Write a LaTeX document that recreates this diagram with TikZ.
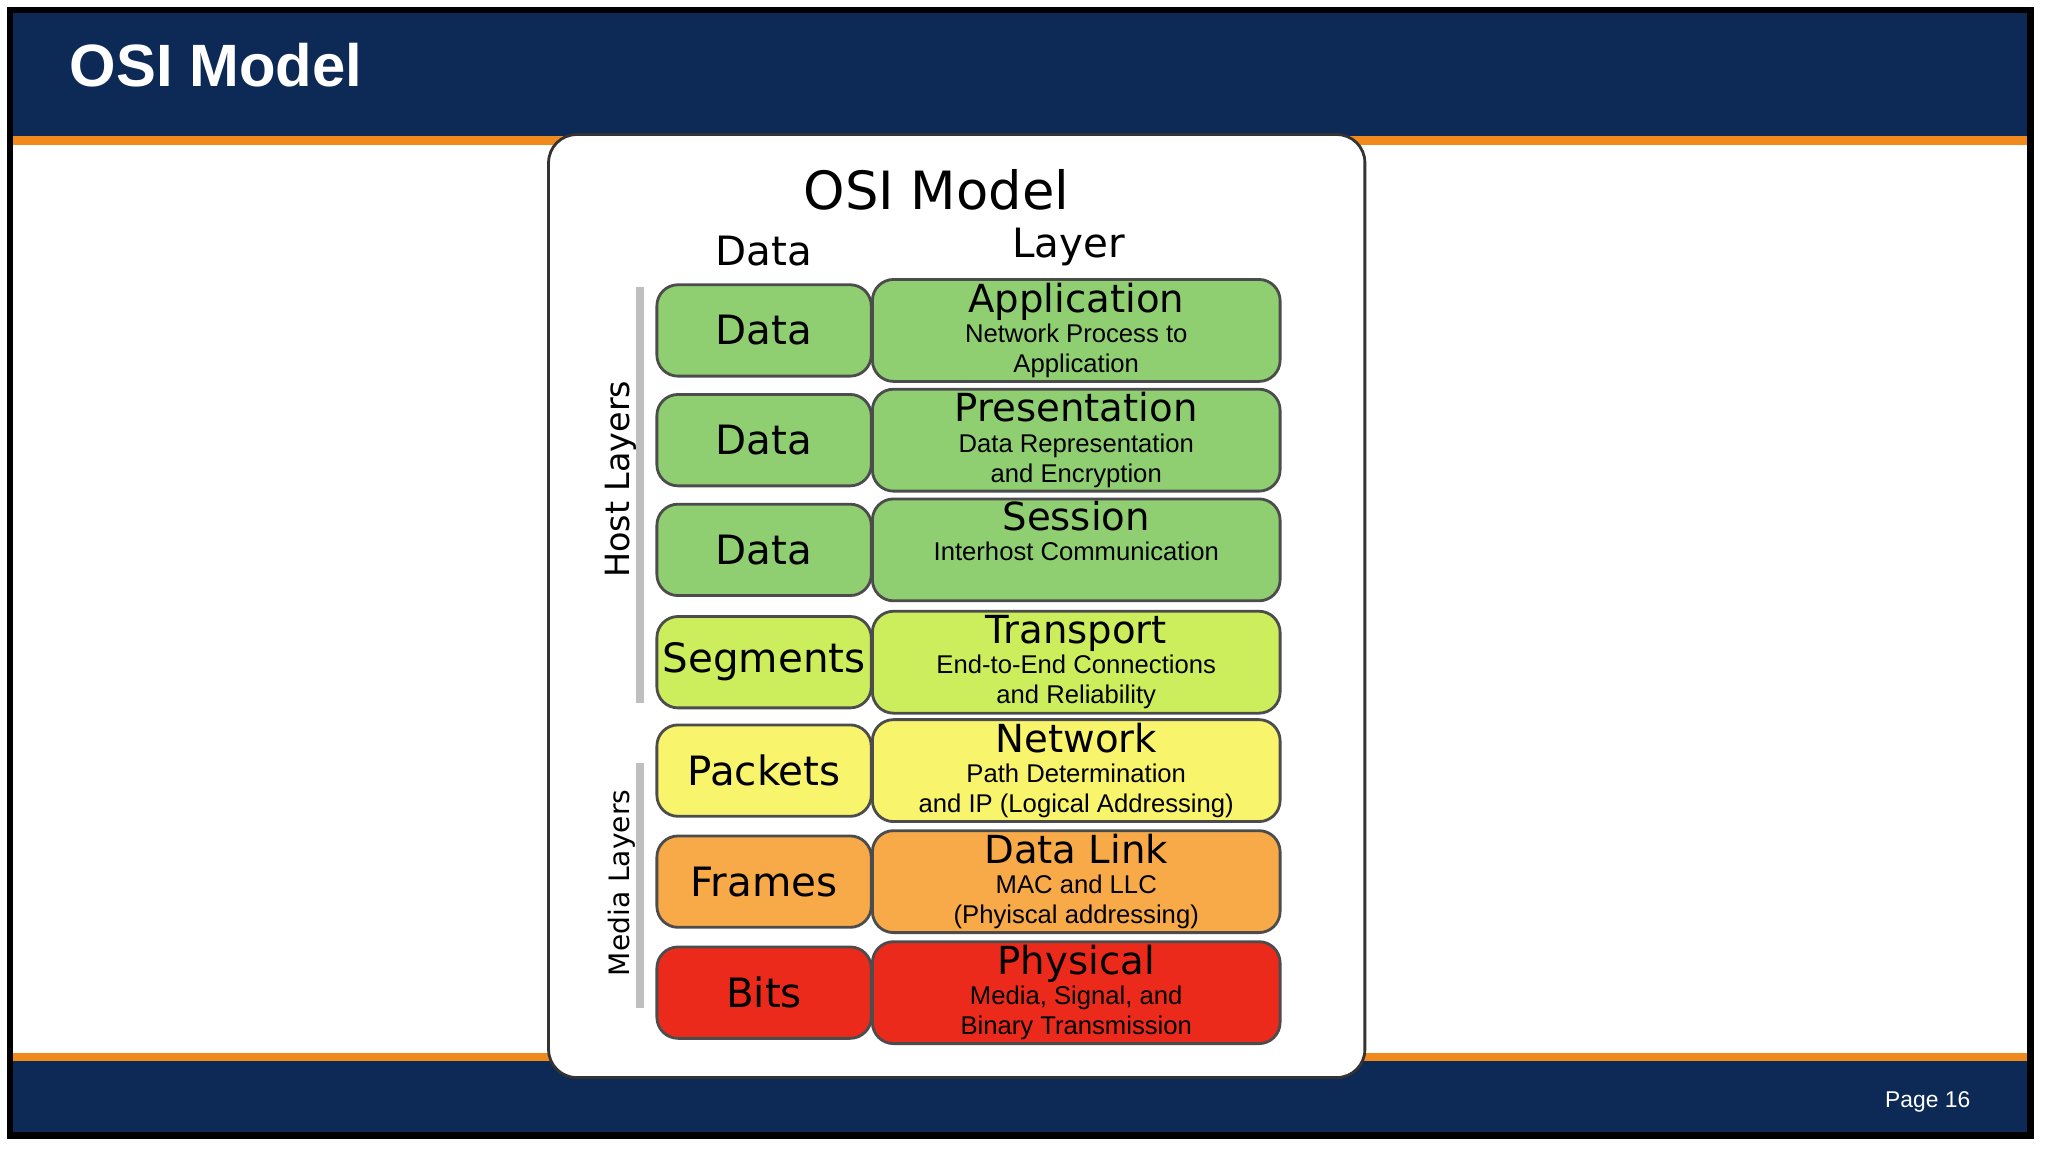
\documentclass[tikz,border=0pt]{standalone}
\usepackage{fontspec}
\setmainfont{DejaVu Sans}
\newfontfamily\titlefont{Liberation Sans}
\usetikzlibrary{positioning}
\definecolor{barblue}{HTML}{0C2A55}
\definecolor{barorange}{HTML}{F08A1C}
\definecolor{cgreen}{HTML}{8FCF72}
\definecolor{clime}{HTML}{CDEE5C}
\definecolor{cyellow}{HTML}{F8F46C}
\definecolor{corange}{HTML}{F8AA48}
\definecolor{cred}{HTML}{EC2A1C}
\newcommand{\subtxt}{\titlefont\fontsize{7.3}{7.3}\selectfont}
\tikzset{
  pdu/.style={draw=black!70, line width=0.8pt, rounded corners=6pt, minimum width=61pt, minimum height=26pt, inner sep=1pt, font=\fontsize{11.5}{12}\selectfont},
  layer/.style={draw=black!70, line width=0.8pt, rounded corners=6pt, minimum width=116pt, minimum height=29pt, align=center, font=\fontsize{11}{8.6}\selectfont, inner sep=0pt}
}
\begin{document}
\begin{tikzpicture}[x=0.01306cm, y=-0.01306cm]
  \useasboundingbox (0,0) rectangle (1568,882);
  % Slide frame
  \fill[black] (5,5) rectangle (1557,872);
  \fill[white] (10,10) rectangle (1552,867);
  \fill[barblue] (10,10) rectangle (1552,104);
  \fill[barorange] (10,104) rectangle (1552,111);
  \fill[barorange] (10,806) rectangle (1552,812);
  \fill[barblue] (10,812) rectangle (1552,867);
  \node[anchor=west, white, font=\titlefont\bfseries\fontsize{17}{17}\selectfont] (title) at (44,50) {OSI Model};
  \node[anchor=east, white, font=\titlefont\fontsize{6.5}{6.5}\selectfont] (page) at (1518,844) {Page 16};

  % Panel
  \draw[black!80, line width=0.8pt, fill=white, rounded corners=8pt] (420,103) rectangle (1045,825);
  \node[font=\fontsize{15}{15}\selectfont] (head) at (717,145) {OSI Model};
  \node[font=\fontsize{11.5}{11}\selectfont] (hdata) at (585,192) {Data};
  \node[font=\fontsize{11.5}{11}\selectfont] (hlayer) at (818,189) {Layer};

  % Rows
  \node[pdu, fill=cgreen] (d7) at (585,253) {Data};
  \node[layer, fill=cgreen] (l7) at (824,253) {Application\\ {\subtxt Network Process to}\\ {\subtxt Application}};
  \node[pdu, fill=cgreen] (d6) at (585,337) {Data};
  \node[layer, fill=cgreen] (l6) at (824,337) {Presentation\\ {\subtxt Data Representation}\\ {\subtxt and Encryption}};
  \node[pdu, fill=cgreen] (d5) at (585,421) {Data};
  \node[layer, fill=cgreen] (l5) at (824,421) {Session\\ {\subtxt Interhost Communication}\\ {\subtxt\strut}};
  \node[pdu, fill=clime] (d4) at (585,507) {Segments};
  \node[layer, fill=clime] (l4) at (824,507) {Transport\\ {\subtxt End-to-End Connections}\\ {\subtxt and Reliability}};
  \node[pdu, fill=cyellow] (d3) at (585,590) {Packets};
  \node[layer, fill=cyellow] (l3) at (824,590) {Network\\ {\subtxt Path Determination}\\ {\subtxt and IP (Logical Addressing)}};
  \node[pdu, fill=corange] (d2) at (585,675) {Frames};
  \node[layer, fill=corange] (l2) at (824,675) {Data Link\\ {\subtxt MAC and LLC}\\ {\subtxt (Phyiscal addressing)}};
  \node[pdu, fill=cred] (d1) at (585,760) {Bits};
  \node[layer, fill=cred] (l1) at (824,760) {Physical\\ {\subtxt Media, Signal, and}\\ {\subtxt Binary Transmission}};

  % Side groups
  \coordinate (ht) at (490,220);
  \coordinate (hb) at (490,538);
  \coordinate (mt) at (490,584);
  \coordinate (mb) at (490,772);
  \draw[black!25, line width=2pt] (ht) -- (hb);
  \draw[black!25, line width=2pt] (mt) -- (mb);
  \node[rotate=90, font=\fontsize{9.5}{9.5}\selectfont] (host) at (475,367) {Host Layers};
  \node[rotate=90, font=\fontsize{8}{8}\selectfont] (media) at (476,676) {Media Layers};
\end{tikzpicture}
\end{document}
